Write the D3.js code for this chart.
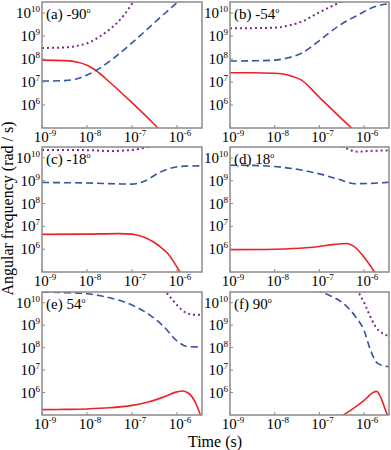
<!DOCTYPE html>
<html>
<head>
<meta charset="utf-8">
<script src="https://cdn.jsdelivr.net/npm/d3@7"></script>
<style>
  body { margin: 0; background: #fff; }
</style>
</head>
<body>
<div id="chart"></div>
<script>
const WIDTH = 391;
const HEIGHT = 450;
const FONT = "'Liberation Serif', 'Times New Roman', 'DejaVu Serif', serif";

// panel titles
const panelLabels = ["(a) -90", "(b) -54", "(c) -18", "(d) 18", "(e) 54", "(f) 90"];

// tick exponents
const xTickExps = [-9, -8, -7, -6];
const yTickExps = [6, 7, 8, 9, 10];

// [log10 time (s), log10 angular frequency (rad/s)]
const redSeries = [
    [[-9, 7.95], [-8.5, 7.93], [-8.2, 7.86], [-8, 7.73], [-7.8, 7.5], [-7.5, 7.0], [-7, 6.1], [-6.5, 5.15], [-6.35, 4.85]],
    [[-9, 7.40], [-8.5, 7.40], [-8, 7.38], [-7.7, 7.3], [-7.4, 7.08], [-7, 6.33], [-6.5, 5.4], [-6.2, 4.85]],
    [[-9, 6.65], [-8, 6.66], [-7.3, 6.68], [-7, 6.66], [-6.7, 6.5], [-6.4, 6.15], [-6.2, 5.8], [-5.92, 4.95]],
    [[-9, 5.98], [-8, 6.0], [-7.3, 6.06], [-7, 6.12], [-6.7, 6.2], [-6.4, 6.25], [-6.2, 6.08], [-6.0, 5.65], [-5.75, 4.95]],
    [[-9, 5.24], [-8.5, 5.25], [-8, 5.27], [-7.5, 5.32], [-7, 5.43], [-6.6, 5.6], [-6.3, 5.8], [-6.0, 6.03], [-5.88, 6.07], [-5.75, 5.98], [-5.6, 5.6], [-5.47, 4.95]],
    [[-6.5, 4.95], [-6.2, 5.35], [-6.0, 5.65], [-5.8, 6.0], [-5.72, 6.05], [-5.62, 5.75], [-5.52, 5.2], [-5.47, 4.95]]
];

const blueSeries = [
    [[-9, 7.04], [-8.5, 7.06], [-8.2, 7.15], [-8, 7.3], [-7.8, 7.5], [-7.5, 7.9], [-7, 8.7], [-6.5, 9.58], [-6, 10.45], [-5.9, 10.62]],
    [[-9, 7.91], [-8.5, 7.92], [-8, 7.95], [-7.7, 8.05], [-7.4, 8.25], [-7, 8.8], [-6.6, 9.4], [-6.1, 9.95], [-5.8, 10.25], [-5.45, 10.4]],
    [[-9, 8.92], [-8, 8.9], [-7.3, 8.86], [-7, 8.85], [-6.7, 9.0], [-6.4, 9.35], [-6.1, 9.57], [-5.8, 9.64], [-5.45, 9.65]],
    [[-9, 9.68], [-8.5, 9.67], [-8, 9.62], [-7.5, 9.5], [-7, 9.3], [-6.6, 9.08], [-6.2, 8.87], [-5.9, 8.88], [-5.45, 8.93]],
    [[-9, 10.47], [-8.5, 10.45], [-8, 10.4], [-7.5, 10.22], [-7, 9.9], [-6.6, 9.45], [-6.3, 8.95], [-6.0, 8.3], [-5.75, 8.04], [-5.45, 8.03]],
    [[-7.1, 10.55], [-6.8, 10.35], [-6.5, 10.02], [-6.2, 9.4], [-6.0, 8.75], [-5.85, 7.85], [-5.7, 7.3], [-5.45, 7.15]]
];

const purpleSeries = [
    [[-9, 8.48], [-8.5, 8.5], [-8.2, 8.58], [-8, 8.68], [-7.7, 9.0], [-7.5, 9.28], [-7.2, 9.85], [-6.95, 10.55]],
    [[-9, 9.33], [-8.5, 9.34], [-8, 9.36], [-7.7, 9.45], [-7.4, 9.62], [-7, 10.03], [-6.5, 10.5]],
    [[-9, 10.35], [-8, 10.34], [-7.5, 10.3], [-7, 10.35], [-6.6, 10.5], [-6.35, 10.65]],
    [[-6.6, 10.62], [-6.4, 10.42], [-6.15, 10.27], [-5.9, 10.3], [-5.45, 10.33]],
    [[-6.3, 10.6], [-6.15, 10.25], [-6.0, 9.9], [-5.8, 9.55], [-5.6, 9.46], [-5.45, 9.46]],
    [[-6.17, 10.6], [-6.0, 10.0], [-5.9, 9.55], [-5.75, 8.95], [-5.6, 8.65], [-5.45, 8.52]]
];

// panel frames
const columns = [[42, 202], [230, 389]];
const rows = [[2, 128], [147, 272], [292, 415]];

const X_DOMAIN = [1e-9, 3.6e-6];
const Y_DOMAIN = [1e5, 3e10];

const svg = d3.select("#chart")
    .append("svg")
    .attr("width", WIDTH)
    .attr("height", HEIGHT)
    .attr("font-family", FONT);

const line = (x, y) => d3.line()
    .curve(d3.curveMonotoneX)
    .x(d => x(10 ** d[0]))
    .y(d => y(10 ** d[1]));

const styles = [
    { data: redSeries, color: "#ec2227", dash: null, width: 1.6 },
    { data: blueSeries, color: "#3653a4", dash: "7,4", width: 1.6 },
    { data: purpleSeries, color: "#7d2a8f", dash: "2,3", width: 2 }
];

// superscripted "10^e" label
function powerLabel(t, e) {
    t.append("tspan").text("10");
    t.append("tspan").attr("dy", -6).style("font-size", "9px").text(e);
}

panelLabels.forEach((label, i) => {
    const [x0, x1] = columns[i % 2];
    const [y0, y1] = rows[Math.floor(i / 2)];

    const x = d3.scaleLog().domain(X_DOMAIN).range([x0, x1]);
    const y = d3.scaleLog().domain(Y_DOMAIN).range([y1, y0]);

    const g = svg.append("g");

    g.append("clipPath")
        .attr("id", "clip" + i)
        .append("rect")
        .attr("x", x0).attr("y", y0)
        .attr("width", x1 - x0).attr("height", y1 - y0);

    const plot = g.append("g").attr("clip-path", `url(#clip${i})`);

    styles.forEach(s => {
        plot.append("path")
            .datum(s.data[i])
            .attr("fill", "none")
            .attr("stroke", s.color)
            .attr("stroke-width", s.width)
            .attr("stroke-dasharray", s.dash)
            .attr("d", line(x, y));
    });

    // frame
    g.append("rect")
        .attr("x", x0).attr("y", y0)
        .attr("width", x1 - x0).attr("height", y1 - y0)
        .attr("fill", "none")
        .attr("stroke", "#8a8a8a")
        .attr("stroke-width", 1.5);

    // y ticks
    yTickExps.forEach(e => {
        const yy = y(10 ** e);
        g.append("line")
            .attr("x1", x0).attr("x2", x0 + 3)
            .attr("y1", yy).attr("y2", yy)
            .attr("stroke", "#8a8a8a");
        const t = g.append("text")
            .attr("x", x0 - 2)
            .attr("y", yy + 5)
            .attr("text-anchor", "end")
            .style("font-size", "15px");
        powerLabel(t, e);
    });

    // x ticks
    xTickExps.forEach(e => {
        const xx = x(10 ** e);
        g.append("line")
            .attr("x1", xx).attr("x2", xx)
            .attr("y1", y1).attr("y2", y1 - 3)
            .attr("stroke", "#8a8a8a");
        const t = g.append("text")
            .attr("x", xx + 3)
            .attr("y", y1 + 14)
            .attr("text-anchor", "middle")
            .style("font-size", "15px");
        powerLabel(t, e);
    });

    // panel label
    const lab = g.append("text")
        .attr("x", x0 + 4)
        .attr("y", y0 + 17)
        .style("font-size", "15px");
    lab.append("tspan").text(label);
    lab.append("tspan").attr("dy", -6).style("font-size", "8px").text("o");
});

// axis titles
svg.append("text")
    .attr("transform", `translate(13, ${(rows[0][0] + rows[2][1]) / 2}) rotate(-90)`)
    .attr("text-anchor", "middle")
    .style("font-size", "16px")
    .text("Angular frequency (rad / s)");

svg.append("text")
    .attr("x", 215)
    .attr("y", 447)
    .attr("text-anchor", "middle")
    .style("font-size", "16px")
    .text("Time (s)");
</script>
</body>
</html>
